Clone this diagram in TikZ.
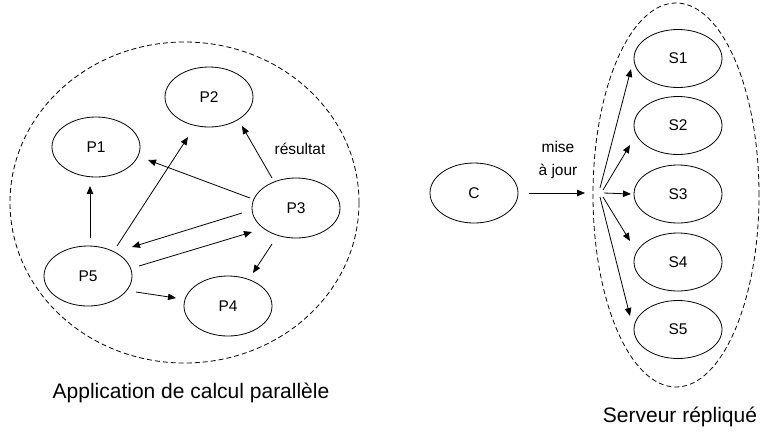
\documentclass[tikz,border=0pt]{standalone}
\usepackage{fontspec}
\setmainfont{Liberation Sans}
\usetikzlibrary{shapes.geometric,arrows.meta,calc}
\begin{document}
\begin{tikzpicture}[x=1bp,y=-1bp,
 proc/.style={ellipse,draw,line width=0.8bp,minimum width=88bp,minimum height=60bp,inner sep=0pt,font=\fontsize{15.5bp}{18bp}\selectfont},
 srv/.style={proc,minimum height=58bp},
 group/.style={ellipse,draw,dash pattern=on 5bp off 3bp,line width=0.8bp,inner sep=0pt},
 arr/.style={-{Triangle[length=8bp,width=6.5bp]},line width=0.8bp},
 lbl/.style={font=\fontsize{15.5bp}{23bp}\selectfont,inner sep=0pt,align=center},
 captext/.style={font=\fontsize{21bp}{25bp}\selectfont,inner sep=0pt}]
\useasboundingbox (0,0) rectangle (760,432);

% left group
\node[group,minimum width=349bp,minimum height=321bp] (G1) at (184.5,202.5) {};
\node[proc] (P1) at (96,147) {P1};
\node[proc] (P2) at (209,97) {P2};
\node[proc] (P3) at (296,208) {P3};
\node[proc] (P4) at (228,306) {P4};
\node[proc] (P5) at (88,276) {P5};
\node[lbl] (res) at (300,149) {résultat};
\node[captext] (cap1) at (191,393) {Application de calcul parallèle};

\draw[arr] ($(P5)+(2,-38)$) -- ($(P1)+(-6,39)$);
\draw[arr] ($(P5)+(29,-30)$) -- ($(P2)+(-21,40)$);
\draw[arr] ($(P3)+(-46,-10)$) -- ($(P1)+(52,13)$);
\draw[arr] ($(P3)+(-24,-30)$) -- ($(P2)+(33,29)$);
\draw[arr] ($(P3)+(-54,5)$) -- ($(P5)+(44,-29)$);
\draw[arr] ($(P5)+(51,-10)$) -- ($(P3)+(-44,24)$);
\draw[arr] ($(P3)+(-24,36)$) -- ($(P4)+(25,-33)$);
\draw[arr] ($(P5)+(48,16)$) -- ($(P4)+(-52,-8)$);

% right group
\node[group,minimum width=166bp,minimum height=384bp] (G2) at (676,195) {};
\node[proc] (C) at (474,193) {C};
\node[srv] (S1) at (678,58.5) {S1};
\node[srv] (S2) at (678,125.5) {S2};
\node[srv] (S3) at (678,194) {S3};
\node[srv] (S4) at (678,262) {S4};
\node[srv] (S5) at (678,329.5) {S5};
\node[lbl] (maj) at (558,159.5) {mise\\à jour};
\node[captext] (cap2) at (680,417) {Serveur répliqué};

\coordinate (M) at (585,193);
\coordinate (F) at (600,193);
\draw[arr] ($(C)+(55,0)$) -- (M);
\draw[arr] ($(F)+(0,-5)$) -- ($(S1)+(-47,10.5)$);
\draw[arr] ($(F)+(3,-3)$) -- ($(S2)+(-48,19.5)$);
\draw[arr] ($(F)+(4,0)$) -- ($(S3)+(-47,0)$);
\draw[arr] ($(F)+(3,4)$) -- ($(S4)+(-48,-21)$);
\draw[arr] ($(F)+(0,4)$) -- ($(S5)+(-48,-13.5)$);
\end{tikzpicture}
\end{document}
